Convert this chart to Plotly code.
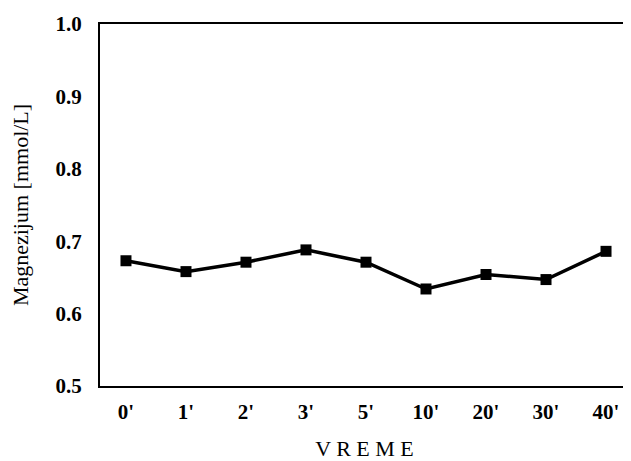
import plotly.graph_objects as go

categories = ["0'", "1'", "2'", "3'", "5'", "10'", "20'", "30'", "40'"]
magnezijum = [0.673, 0.658, 0.671, 0.688, 0.671, 0.634, 0.654, 0.647, 0.686]
y_ticks = [0.5, 0.6, 0.7, 0.8, 0.9, 1.0]
y_tick_labels = ["0.5", "0.6", "0.7", "0.8", "0.9", "1.0"]

fig = go.Figure()
fig.add_trace(go.Scatter(
    x=categories, y=magnezijum, mode="lines+markers",
    line=dict(color="black", width=3.5),
    marker=dict(symbol="square", size=11, color="black"),
    showlegend=False,
))

font_serif = "Liberation Serif, Times New Roman, serif"
# page body has an 8px margin, so the figure is sized/offset to compensate
fig.update_layout(
    width=623, height=453,
    margin=dict(l=92, r=2, t=16, b=75, autoexpand=False),
    paper_bgcolor="white", plot_bgcolor="white",
    font=dict(family=font_serif, color="black"),
)
fig.update_xaxes(
    type="category", range=[-0.433, 8.383], automargin=False,
    showline=True, linecolor="black", linewidth=2, mirror=True,
    showgrid=False, zeroline=False, ticks="",
    tickfont=dict(family=font_serif, size=21, color="black", weight="bold"),
    ticklabelstandoff=6,
    title=dict(text="V R E M E", font=dict(family=font_serif, size=22, color="black"), standoff=28),
)
fig.update_yaxes(
    range=[0.5, 1.0], tickvals=y_ticks, ticktext=y_tick_labels, automargin=False,
    showline=True, linecolor="black", linewidth=2, mirror=True,
    showgrid=False, zeroline=False, ticks="",
    tickfont=dict(family=font_serif, size=21, color="black", weight="bold"),
    ticklabelstandoff=12,
    title=dict(text="Magnezijum [mmol/L]", font=dict(family=font_serif, size=22, color="black"), standoff=22),
)

fig.write_html("out.html")
